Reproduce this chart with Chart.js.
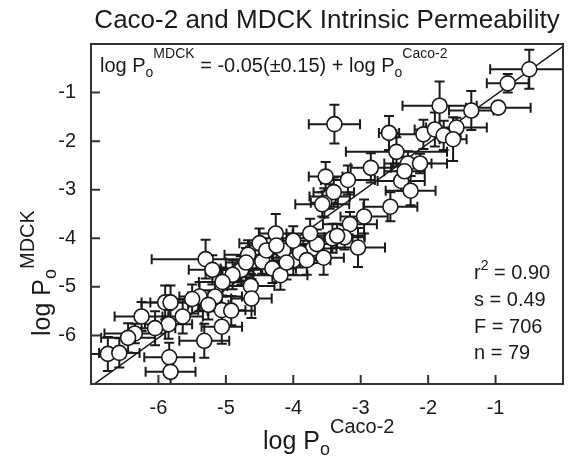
<!DOCTYPE html>
<html>
<head>
<meta charset="utf-8">
<script src="https://cdn.jsdelivr.net/npm/chart.js@4.4.1/dist/chart.umd.min.js"></script>
<style>html,body{margin:0;padding:0;background:#fff}</style>
</head>
<body>
<canvas id="c" width="575" height="459"></canvas>
<script>
// ── Caco-2 vs MDCK intrinsic permeability ──
const FONT = '"Liberation Sans", Arial, sans-serif';
const INK = '#1a1a1a';

// log Po values (x = Caco-2, y = MDCK)
const cacoLogPo = [-0.50,-0.82,-0.96,-1.36,-1.83,-3.39,-2.58,-2.07,-1.90,-1.58,
  -1.77,-1.63,-2.47,-2.30,-2.12,-3.52,-3.19,-2.40,-2.26,-2.56,
  -3.46,-3.54,-3.16,-3.42,-3.24,-3.04,-2.85,-3.57,-5.30,-4.26,
  -3.71,-4.00,-4.46,-4.67,-4.78,-4.31,-6.75,-6.58,-6.35,-6.25,
  -5.90,-5.82,-5.85,-5.64,-5.84,-5.82,-5.32,-5.39,-5.06,-5.06,
  -4.92,-5.16,-4.63,-4.62,-4.19,-4.77,-5.26,-4.50,-4.15,-3.90,
  -3.65,-3.35,-4.90,-5.05,-4.10,-3.80,-4.40,-5.50,-6.05,-6.45,
  -2.35,-2.95,-3.40,-4.70,-4.25,-4.00,-3.75,-3.55,-5.20];
const mdckLogPo = [-0.52,-0.81,-1.31,-1.37,-1.27,-1.65,-1.83,-1.86,-1.76,-1.72,
  -1.88,-1.96,-2.22,-2.46,-2.46,-2.73,-2.80,-2.82,-3.02,-3.35,
  -3.14,-3.27,-3.71,-4.00,-3.98,-4.19,-2.55,-3.30,-4.43,-3.90,
  -4.21,-4.45,-4.48,-4.34,-4.62,-4.62,-6.38,-6.36,-5.96,-5.61,
  -5.32,-5.32,-5.77,-5.61,-6.45,-6.75,-6.11,-5.20,-5.48,-5.82,
  -5.49,-5.20,-4.98,-5.24,-4.76,-4.65,-5.37,-4.10,-4.25,-4.30,
  -4.12,-3.95,-4.75,-4.90,-4.50,-4.45,-4.25,-5.25,-5.85,-6.05,
  -2.62,-3.55,-3.05,-4.50,-4.15,-4.05,-3.90,-4.40,-4.65];
const cacoErr = [0.58,0.31,0.48,0.33,0.55,0.38,0.15,0.40,0.30,0.45,
  0.25,0.20,0.75,0.35,0.40,0.25,0.40,0.35,0.37,0.40,
  0.30,0.20,0.40,0.30,0.30,0.40,0.30,0.40,0.80,0.25,
  0.35,0.30,0.30,0.35,0.30,0.35,0.25,0.30,0.45,0.40,
  0.35,0.30,0.35,0.30,0.37,0.37,0.37,0.30,0.35,0.30,
  0.35,0.40,0.35,0.30,0.40,0.30,0.30,0.30,0.35,0.25,
  0.30,0.40,0.30,0.35,0.30,0.35,0.30,0.35,0.30,0.40,
  0.30,0.35,0.30,0.30,0.40,0.30,0.35,0.30,0.35];
const mdckErr = [0.40,0.19,0.10,0.40,0.50,0.40,0.35,0.30,0.35,0.20,
  0.30,0.45,0.30,0.25,0.20,0.30,0.30,0.20,0.30,0.30,
  0.25,0.30,0.25,0.30,0.25,0.40,0.30,0.25,0.40,0.40,
  0.30,0.30,0.25,0.30,0.25,0.30,0.35,0.30,0.20,0.30,
  0.35,0.35,0.30,0.35,0.30,0.25,0.35,0.30,0.30,0.35,
  0.30,0.30,0.25,0.40,0.30,0.30,0.30,0.30,0.25,0.30,
  0.30,0.25,0.30,0.30,0.35,0.30,0.25,0.30,0.35,0.30,
  0.30,0.35,0.30,0.30,0.25,0.30,0.30,0.35,0.30];

// regression line: log Po(MDCK) = -0.05 + log Po(Caco-2)
const fitX = [-7, 0];
const fitY = [-7.05, -0.05];

const tickValues = [-6, -5, -4, -3, -2, -1];
const statLines = ['s = 0.49', 'F = 706', 'n = 79'];

// draw a run of text pieces with their own size / vertical shift
function rich(ctx, x, y, parts) {
  ctx.textAlign = 'left';
  ctx.textBaseline = 'alphabetic';
  parts.forEach(([t, size, dy]) => {
    ctx.font = size + 'px ' + FONT;
    ctx.fillText(t, x, y + dy);
    x += ctx.measureText(t).width;
  });
}

const decor = {
  id: 'decor',
  beforeDatasetsDraw(chart) {
    const { ctx, chartArea: a, scales: { x, y } } = chart;
    ctx.save();
    ctx.beginPath();
    ctx.rect(a.left, a.top, a.right - a.left, a.bottom - a.top);
    ctx.clip();
    ctx.strokeStyle = INK;
    ctx.lineWidth = 2;
    const cap = 5;
    cacoLogPo.forEach((cx, i) => {
      const px = x.getPixelForValue(cx), py = y.getPixelForValue(mdckLogPo[i]);
      const x0 = x.getPixelForValue(cx - cacoErr[i]), x1 = x.getPixelForValue(cx + cacoErr[i]);
      const y0 = y.getPixelForValue(mdckLogPo[i] - mdckErr[i]), y1 = y.getPixelForValue(mdckLogPo[i] + mdckErr[i]);
      ctx.beginPath();
      ctx.moveTo(x0, py); ctx.lineTo(x1, py);
      ctx.moveTo(x0, py - cap); ctx.lineTo(x0, py + cap);
      ctx.moveTo(x1, py - cap); ctx.lineTo(x1, py + cap);
      ctx.moveTo(px, y0); ctx.lineTo(px, y1);
      ctx.moveTo(px - cap, y0); ctx.lineTo(px + cap, y0);
      ctx.moveTo(px - cap, y1); ctx.lineTo(px + cap, y1);
      ctx.stroke();
    });
    ctx.restore();
  },
  afterDraw(chart) {
    const { ctx, chartArea: a, scales: { x, y } } = chart;
    ctx.save();
    // frame + inward ticks
    ctx.strokeStyle = '#333';
    ctx.lineWidth = 2;
    ctx.strokeRect(a.left, a.top, a.right - a.left, a.bottom - a.top);
    ctx.beginPath();
    tickValues.forEach(v => {
      const px = x.getPixelForValue(v), py = y.getPixelForValue(v);
      ctx.moveTo(px, a.bottom); ctx.lineTo(px, a.bottom - 9);
      ctx.moveTo(a.left, py); ctx.lineTo(a.left + 9, py);
    });
    ctx.stroke();

    ctx.fillStyle = INK;
    // title
    ctx.font = '26px ' + FONT;
    ctx.textAlign = 'center';
    ctx.fillText('Caco-2 and MDCK Intrinsic Permeability', 327, 28);
    // equation
    rich(ctx, 100, 72, [['log P', 20, 0], ['o', 14, 5], ['MDCK', 14, -14],
      [' = -0.05(\u00b10.15) + log P', 20, 0], ['o', 14, 5], ['Caco-2', 14, -14]]);
    // stats
    rich(ctx, 474, 279, [['r', 20, 0], ['2', 14, -9], [' = 0.90', 20, 0]]);
    statLines.forEach((s, i) => rich(ctx, 474, 306 + i * 26.7, [[s, 20, 0]]));
    // axis titles
    rich(ctx, 263, 449, [['log P', 25, 0], ['o', 18, 6], ['Caco-2', 20, -16]]);
    ctx.translate(50, 336);
    ctx.rotate(-Math.PI / 2);
    rich(ctx, 0, 0, [['log P', 25, 0], ['o', 18, 6], ['MDCK', 20, -16]]);
    ctx.restore();
  }
};

const tickLabel = v => (v <= -7 || v >= 0) ? '' : String(v);

new Chart(document.getElementById('c').getContext('2d'), {
  type: 'scatter',
  data: {
    datasets: [
      { type: 'line', data: fitX.map((v, i) => ({ x: v, y: fitY[i] })), borderColor: INK, borderWidth: 1.5, pointRadius: 0, order: 2 },
      { data: cacoLogPo.map((v, i) => ({ x: v, y: mdckLogPo[i] })), pointRadius: 7.5, pointBackgroundColor: '#fff', pointBorderColor: INK, pointBorderWidth: 1.6, order: 1 }
    ]
  },
  options: {
    responsive: false, animation: false, events: [],
    layout: { padding: { top: 44, right: 0, left: 0, bottom: 0 } },
    plugins: { legend: { display: false }, tooltip: { enabled: false } },
    scales: {
      x: { type: 'linear', min: -7, max: 0, grid: { display: false, drawTicks: false }, border: { display: false },
        ticks: { stepSize: 1, autoSkip: false, maxRotation: 0, padding: 12, color: INK, font: { size: 20, family: FONT }, callback: tickLabel },
        afterFit: s => { s.height = 75; } },
      y: { type: 'linear', min: -7, max: 0, grid: { display: false, drawTicks: false }, border: { display: false },
        ticks: { stepSize: 1, autoSkip: false, padding: 15, color: INK, font: { size: 20, family: FONT }, callback: tickLabel },
        afterFit: s => { s.width = 91; } }
    }
  },
  plugins: [decor]
});
</script>
</body>
</html>
